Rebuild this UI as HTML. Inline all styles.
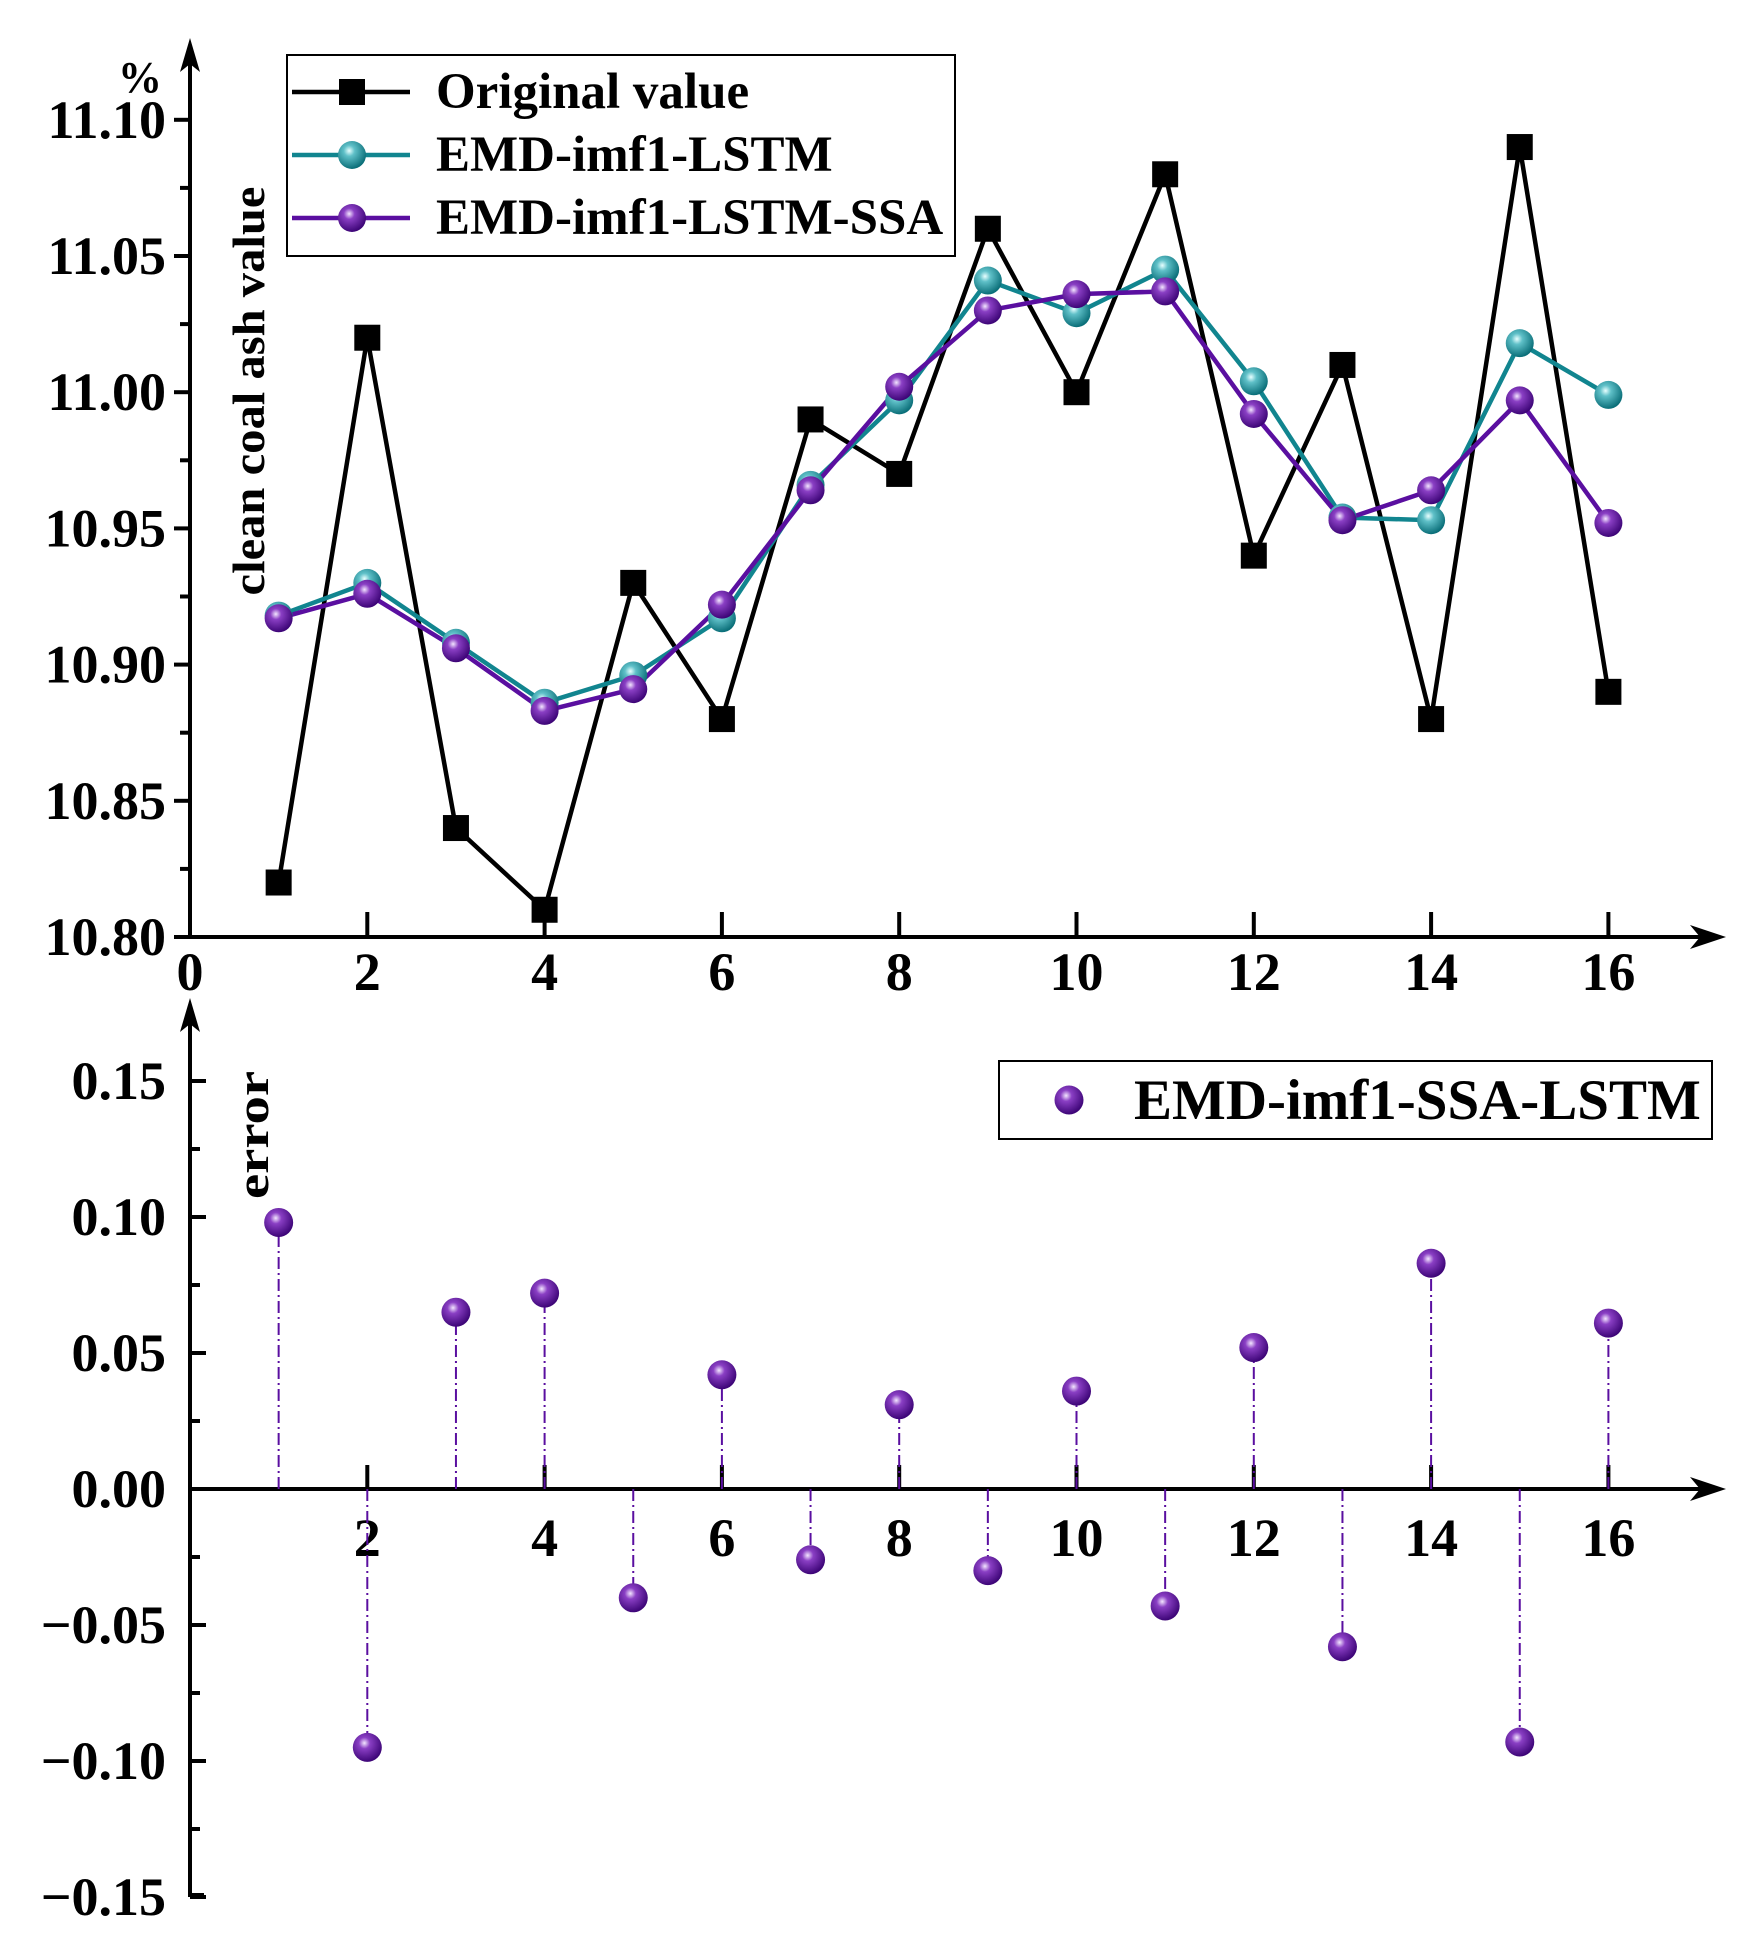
<!DOCTYPE html>
<html><head><meta charset="utf-8"><style>
html,body{margin:0;padding:0;background:#fff}
svg{display:block}
text{font-family:"Liberation Serif",serif;font-weight:bold;fill:#000}
</style></head><body>
<svg id="c" width="1754" height="1946" viewBox="0 0 1754 1946">
<defs>
<radialGradient id="gT" cx="0.4" cy="0.35" r="0.65"><stop offset="0" stop-color="#e8ffff"/><stop offset="0.3" stop-color="#5fc0c8"/><stop offset="1" stop-color="#0a6e78"/></radialGradient>
<radialGradient id="gP" cx="0.4" cy="0.35" r="0.65"><stop offset="0" stop-color="#f3e6ff"/><stop offset="0.3" stop-color="#8a3fc4"/><stop offset="1" stop-color="#3d0577"/></radialGradient>
</defs>
</svg>
<script>
const xs=[1,2,3,4,5,6,7,8,9,10,11,12,13,14,15,16];
const original=[10.82,11.02,10.84,10.81,10.93,10.88,10.99,10.97,11.06,11.00,11.08,10.94,11.01,10.88,11.09,10.89];
const lstm=[10.918,10.930,10.908,10.886,10.896,10.917,10.966,10.997,11.041,11.029,11.045,11.004,10.954,10.953,11.018,10.999];
const lstmSsa=[10.917,10.926,10.906,10.883,10.891,10.922,10.964,11.002,11.030,11.036,11.037,10.992,10.953,10.964,10.997,10.952];
const errors=[0.098,-0.095,0.065,0.072,-0.040,0.042,-0.026,0.031,-0.030,0.036,-0.043,0.052,-0.058,0.083,-0.093,0.061];
const topYTicks=["10.80","10.85","10.90","10.95","11.00","11.05","11.10"];
const xTicks=[0,2,4,6,8,10,12,14,16];
const botYTicks=["−0.15","−0.10","−0.05","0.00","0.05","0.10","0.15"];
const botYVals=[-0.15,-0.10,-0.05,0,0.05,0.10,0.15];

const svg=document.getElementById('c');
const NS='http://www.w3.org/2000/svg';
function mk(tag,at,parent){const e=document.createElementNS(NS,tag);for(const k in at)e.setAttribute(k,at[k]);(parent||svg).appendChild(e);return e;}
const X=v=>190+v*88.65;
const YT=v=>937-(v-10.80)/0.05*136.2;
const YB=v=>1489-v/0.05*136;
const FS=54;

let g=mk('g',{});


mk('line',{x1:190,y1:937,x2:190,y2:50,stroke:'#000','stroke-width':4},g);
mk('path',{d:'M190 38 L180 72 L190 64 L200 72 Z',fill:'#000'},g);
topYTicks.forEach((t,i)=>{const v=10.80+i*0.05;const y=YT(v);
 mk('line',{x1:174,y1:y,x2:190,y2:y,stroke:'#000','stroke-width':4},g);
 if(i<6){const ym=YT(v+0.025);mk('line',{x1:180,y1:ym,x2:190,y2:ym,stroke:'#000','stroke-width':4},g);}
 const tx=mk('text',{x:166,y:y+18,'text-anchor':'end','font-size':FS},g);tx.textContent=t;
 
 });
g=mk('g',{});


mk('line',{x1:190,y1:937,x2:1710,y2:937,stroke:'#000','stroke-width':4},g);
mk('path',{d:'M1726 937 L1690 925 L1700 937 L1690 949 Z',fill:'#000'},g);
xTicks.forEach(t=>{const x=X(t);
 if(t>0)mk('line',{x1:x,y1:912,x2:x,y2:937,stroke:'#000','stroke-width':4},g);
 const tx=mk('text',{x:x,y:990,'text-anchor':'middle','font-size':FS},g);tx.textContent=t;
 
 });
let t=mk('text',{x:140,y:92,'text-anchor':'middle','font-size':44});t.textContent='%';


t=mk('text',{x:0,y:0,'text-anchor':'middle','font-size':46,textLength:409,lengthAdjust:'spacingAndGlyphs',transform:'translate(264,391) rotate(-90)'});t.textContent='clean coal ash value';



function line(arr,color,name){const p=mk('polyline',{points:arr.map((v,i)=>X(xs[i])+','+YT(v)).join(' '),fill:'none',stroke:color,'stroke-width':4.5});
 
 }
line(original,'#000','original-line');
line(lstm,'#11858f','lstm-line');
line(lstmSsa,'#5a0fa0','lstm-ssa-line');
original.forEach((v,i)=>{const r=mk('rect',{x:X(xs[i])-13,y:YT(v)-13,width:26,height:26,fill:'#000'});
 
 });
lstm.forEach((v,i)=>{const c=mk('circle',{cx:X(xs[i]),cy:YT(v),r:14,fill:'url(#gT)'});
 
 });
lstmSsa.forEach((v,i)=>{const c=mk('circle',{cx:X(xs[i]),cy:YT(v),r:14,fill:'url(#gP)'});
 
 });

g=mk('g',{});


mk('rect',{x:287,y:55,width:668,height:201,fill:'#fff',stroke:'#000','stroke-width':2},g);
[['Original value','#000','sq'],['EMD-imf1-LSTM','#11858f','gT'],['EMD-imf1-LSTM-SSA','#5a0fa0','gP']].forEach((e,i)=>{
 const y=92+i*63;
 mk('line',{x1:292,y1:y,x2:410,y2:y,stroke:e[1],'stroke-width':4.5},g);
 if(e[2]==='sq')mk('rect',{x:339,y:y-13,width:26,height:26,fill:'#000'},g);
 else mk('circle',{cx:352,cy:y,r:14,fill:'url(#'+e[2]+')'},g);
 const tx=mk('text',{x:436,y:y+16,'font-size':51},g);tx.textContent=e[0];
 
 });

g=mk('g',{});


mk('line',{x1:190,y1:1897,x2:190,y2:1010,stroke:'#000','stroke-width':4},g);
mk('path',{d:'M190 998 L180 1032 L190 1024 L200 1032 Z',fill:'#000'},g);
mk('line',{x1:190,y1:1895,x2:204,y2:1895,stroke:'#000','stroke-width':4},g);
botYVals.forEach((v,i)=>{const y=YB(v);
 mk('line',{x1:190,y1:y,x2:206,y2:y,stroke:'#000','stroke-width':4},g);
 if(i<6){const ym=YB(v+0.025);mk('line',{x1:190,y1:ym,x2:200,y2:ym,stroke:'#000','stroke-width':4},g);}
 const tx=mk('text',{x:166,y:y+18,'text-anchor':'end','font-size':FS},g);tx.textContent=botYTicks[i];
 
 });
g=mk('g',{});


mk('line',{x1:190,y1:1489,x2:1710,y2:1489,stroke:'#000','stroke-width':4},g);
mk('path',{d:'M1726 1489 L1690 1477 L1700 1489 L1690 1501 Z',fill:'#000'},g);
xTicks.forEach(tk=>{if(tk===0)return;const x=X(tk);
 mk('line',{x1:x,y1:1465,x2:x,y2:1489,stroke:'#000','stroke-width':4},g);
 const tx=mk('text',{x:x,y:1556,'text-anchor':'middle','font-size':FS},g);tx.textContent=tk;
 
 });
t=mk('text',{x:0,y:0,'text-anchor':'middle','font-size':46,textLength:128,lengthAdjust:'spacingAndGlyphs',transform:'translate(268,1135) rotate(-90)'});t.textContent='error';



errors.forEach((v,i)=>{const x=X(xs[i]);
 const l=mk('line',{x1:x,y1:YB(0),x2:x,y2:YB(v),stroke:'#5a0fa0','stroke-width':2,'stroke-dasharray':'12 4 2 4'});
 
 
 const c=mk('circle',{cx:x,cy:YB(v),r:14.5,fill:'url(#gP)'});
 
 });

g=mk('g',{});


mk('rect',{x:999,y:1061,width:713,height:78,fill:'#fff',stroke:'#000','stroke-width':2},g);
mk('circle',{cx:1069,cy:1100,r:14.5,fill:'url(#gP)'},g);
t=mk('text',{x:1134,y:1119,'font-size':57},g);t.textContent='EMD-imf1-SSA-LSTM';


</script>
</body></html>
